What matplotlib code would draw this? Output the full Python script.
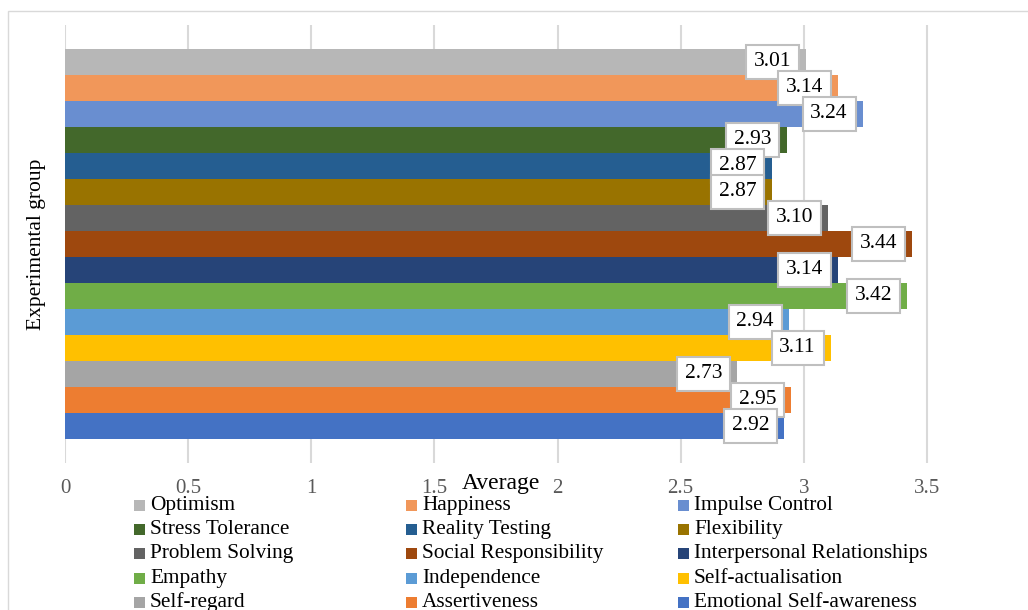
import matplotlib.pyplot as plt
from matplotlib.patches import Rectangle

plt.rcParams['font.family'] = ['Liberation Serif', 'DejaVu Serif']

# EQ subscale averages, listed top bar to bottom bar
scales = ["Optimism", "Happiness", "Impulse Control",
          "Stress Tolerance", "Reality Testing", "Flexibility",
          "Problem Solving", "Social Responsibility", "Interpersonal Relationships",
          "Empathy", "Independence", "Self-actualisation",
          "Self-regard", "Assertiveness", "Emotional Self-awareness"]
averages = [3.01, 3.14, 3.24,
            2.93, 2.87, 2.87,
            3.10, 3.44, 3.14,
            3.42, 2.94, 3.11,
            2.73, 2.95, 2.92]
colors = ["#B7B7B7", "#F1975A", "#698ED0",
          "#43682B", "#255E91", "#997300",
          "#636363", "#9E480E", "#264478",
          "#70AD47", "#5B9BD5", "#FFC000",
          "#A5A5A5", "#ED7D31", "#4472C4"]
xticks = [0, 0.5, 1, 1.5, 2, 2.5, 3, 3.5]

W, H = 1028, 610
fig = plt.figure(figsize=(W / 100, H / 100), dpi=100)

# chart frame
fig.patches.append(Rectangle((7.5 / W, -0.1), 1.2, 1 - 10.5 / H + 0.1,
                             transform=fig.transFigure, fill=False,
                             ec="#d9d9d9", lw=1))

ax = fig.add_axes([65 / W, 1 - 462.5 / H, 985 / W, 437.5 / H])
pos = list(range(len(scales)))
ax.barh(pos, averages, height=1.0, color=colors, zorder=2)
ax.set_xlim(0, 4)
ax.set_ylim(15.404, -1.423)

for i, v in enumerate(averages):
    ax.annotate(f"{v:.2f}", xy=(v, i), xytext=(-15, 0),
                textcoords="offset pixels", ha="right", va="center",
                fontsize=15.5, color="black", zorder=5,
                bbox=dict(boxstyle="square,pad=0.36", fc="white",
                          ec="#bfbfbf", lw=1.5))

ax.set_xticks(xticks)
ax.set_xticklabels([f"{t:g}" for t in xticks])
ax.set_yticks([])
ax.tick_params(axis="x", length=0, pad=12, labelsize=15, labelcolor="#595959")
ax.grid(axis="x", color="#d9d9d9", lw=1.5, zorder=0)
for s in ax.spines.values():
    s.set_visible(False)

fig.text(501 / W, 1 - 483 / H, "Average", ha="center", va="center", fontsize=17)
fig.text(37 / W, 1 - 244 / H, "Experimental group", ha="center", va="center",
         rotation=90, fontsize=15.5)

# legend laid out row by row in three columns
for k, (name, c) in enumerate(zip(scales, colors)):
    row, col = divmod(k, 3)
    x0 = 134 + col * 272
    yc = 505.5 + row * 24.2
    fig.patches.append(Rectangle((x0 / W, 1 - (yc + 5.5) / H), 11 / W, 11 / H,
                                 transform=fig.transFigure, fc=c, ec="none"))
    fig.text((x0 + 16) / W, 1 - yc / H, name, ha="left", va="center", fontsize=15.3)

fig.savefig("out.png", dpi=100)
